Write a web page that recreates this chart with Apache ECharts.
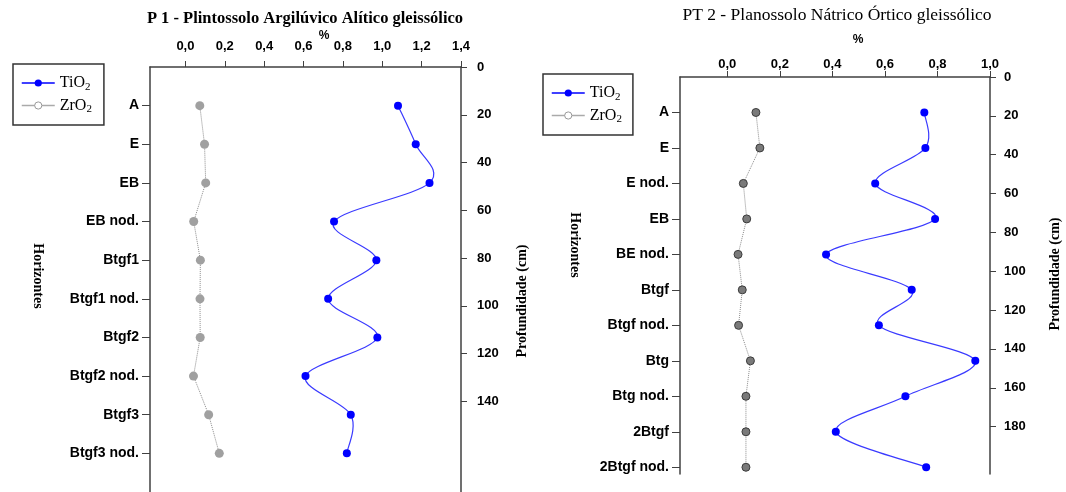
<!DOCTYPE html>
<html>
<head>
<meta charset="utf-8">
<script src="https://cdn.jsdelivr.net/npm/echarts@6/dist/echarts.min.js"></script>
<style>
html,body{margin:0;padding:0;background:#fff;}
#chart{width:1066px;height:492px;}
</style>
</head>
<body>
<div id="chart"></div>
<script>
// ---- Data ----
const catsP1 = ['A','E','EB','EB nod.','Btgf1','Btgf1 nod.','Btgf2','Btgf2 nod.','Btgf3','Btgf3 nod.'];
const tio2P1 = [1.08, 1.17, 1.24, 0.755, 0.97, 0.725, 0.975, 0.61, 0.84, 0.82];
const zro2P1 = [0.073, 0.097, 0.103, 0.042, 0.076, 0.074, 0.075, 0.041, 0.118, 0.172];

const catsP2 = ['A','E','E nod.','EB','BE nod.','Btgf','Btgf nod.','Btg','Btg nod.','2Btgf','2Btgf nod.'];
const tio2P2 = [0.75, 0.754, 0.563, 0.791, 0.376, 0.702, 0.577, 0.944, 0.678, 0.413, 0.757];
const zro2P2 = [0.109, 0.124, 0.061, 0.074, 0.041, 0.057, 0.043, 0.088, 0.071, 0.071, 0.071];

const pctTicksP1 = [0, 0.2, 0.4, 0.6, 0.8, 1.0, 1.2, 1.4];
const pctTicksP2 = [0, 0.2, 0.4, 0.6, 0.8, 1.0];
const depthTicksP1 = [0, 20, 40, 60, 80, 100, 120, 140];
const depthTicksP2 = [0, 20, 40, 60, 80, 100, 120, 140, 160, 180];

const titleP1 = 'P 1 - Plintossolo Argilúvico Alítico gleissólico';
const titleP2 = 'PT 2 - Planossolo Nátrico Órtico gleissólico';

// ---- Styles ----
const SANS = '"Liberation Sans", Arial, sans-serif';
const SERIF = '"Liberation Serif", "Times New Roman", serif';
const AXIS_COLOR = '#404040';
const BLUE = '#0000ff';
const CURVE = '#3a3aff';

const pct = v => v.toFixed(1).replace('.', ',');
const toPts = vals => vals.map((v, i) => [v, i + 1]);

function xAxisFor(gridIndex, max, ticks, margin) {
  return {
    type: 'value', gridIndex, position: 'top', min: -0.18, max,
    axisLine: {show: true, onZero: false, lineStyle: {color: AXIS_COLOR, width: 1.5}},
    axisTick: {show: true, inside: false, length: 6, customValues: ticks, lineStyle: {color: AXIS_COLOR}},
    axisLabel: {customValues: ticks, formatter: pct, margin, color: '#000', fontFamily: SANS, fontWeight: 'bold', fontSize: 13},
    splitLine: {show: false}
  };
}
function catAxisFor(gridIndex, cats, max) {
  const vals = cats.map((c, i) => i + 1);
  return {
    type: 'value', gridIndex, position: 'left', min: 0, max, inverse: true,
    axisLine: {show: true, onZero: false, lineStyle: {color: AXIS_COLOR, width: 1.5}},
    axisTick: {show: true, length: 8, customValues: vals, lineStyle: {color: AXIS_COLOR}},
    axisLabel: {customValues: vals, formatter: v => cats[Math.round(v) - 1] || '', margin: 11,
      color: '#000', fontFamily: SANS, fontWeight: 'bold', fontSize: 14},
    splitLine: {show: false}
  };
}
function depthAxisFor(gridIndex, max, ticks, margin) {
  return {
    type: 'value', gridIndex, position: 'right', min: 0, max, inverse: true,
    axisLine: {show: true, onZero: false, lineStyle: {color: AXIS_COLOR, width: 1.5}},
    axisTick: {show: true, length: 6, customValues: ticks, lineStyle: {color: AXIS_COLOR}},
    axisLabel: {customValues: ticks, margin, color: '#000', fontFamily: SANS, fontWeight: 'bold', fontSize: 13},
    splitLine: {show: false}
  };
}
// markers of TiO2 (line itself drawn by the smooth custom series)
function tioSeries(xi, yi, vals) {
  return {
    name: 'TiO2', type: 'line', xAxisIndex: xi, yAxisIndex: yi, data: toPts(vals),
    symbol: 'circle', symbolSize: 8,
    itemStyle: {color: BLUE},
    lineStyle: {color: BLUE, width: 0, opacity: 0},
    z: 4
  };
}
// Excel-like smoothed curve (Catmull-Rom Bezier) through the TiO2 points, placed by the axes
function tioCurve(xi, yi, vals) {
  return {
    type: 'custom', xAxisIndex: xi, yAxisIndex: yi, data: [[vals[0], 1]], z: 3, silent: true,
    renderItem: function (params, api) {
      if (params.dataIndex !== 0) return null;
      const P = vals.map((v, i) => api.coord([v, i + 1]));
      const children = [];
      for (let i = 0; i < P.length - 1; i++) {
        const p0 = P[i - 1] || P[i], p1 = P[i], p2 = P[i + 1], p3 = P[i + 2] || P[i + 1];
        children.push({
          type: 'bezierCurve',
          shape: {
            x1: p1[0], y1: p1[1], x2: p2[0], y2: p2[1],
            cpx1: p1[0] + (p2[0] - p0[0]) / 6, cpy1: p1[1] + (p2[1] - p0[1]) / 6,
            cpx2: p2[0] - (p3[0] - p1[0]) / 6, cpy2: p2[1] - (p3[1] - p1[1]) / 6
          },
          style: {stroke: CURVE, lineWidth: 1.2, fill: null}
        });
      }
      return {type: 'group', children};
    }
  };
}
function zrSeries(xi, yi, vals, fill, border, size) {
  return {
    name: 'ZrO2', type: 'line', xAxisIndex: xi, yAxisIndex: yi, data: toPts(vals),
    smooth: false, symbol: 'circle', symbolSize: size,
    itemStyle: {color: fill, borderColor: border, borderWidth: border ? 1 : 0},
    lineStyle: {color: '#8c8c8c', width: 1, type: 'dotted'},
    z: 2
  };
}
function legendFor(left, top, pr) {
  return {
    left, top, orient: 'vertical', itemWidth: 33, itemHeight: 9, itemGap: 5,
    padding: [11, pr, 10, 8], borderColor: '#333', borderWidth: 1.5,
    selectedMode: false,
    textStyle: {fontFamily: SERIF, fontSize: 16, color: '#000',
      rich: {b: {fontFamily: SERIF, fontSize: 16}, s: {fontFamily: SERIF, fontSize: 11, padding: [8, 0, 0, 0]}}},
    formatter: n => '{b|' + n.slice(0, 3) + '}{s|2}',
    data: [
      {name: 'TiO2', itemStyle: {color: BLUE}, lineStyle: {color: BLUE, width: 1.5, opacity: 1, type: 'solid'}},
      {name: 'ZrO2', itemStyle: {color: '#fff', borderColor: '#999', borderWidth: 1}, lineStyle: {color: '#aaa', width: 1.5, type: 'solid'}}
    ]
  };
}
function txt(x, y, text, font, rot) {
  return {type: 'text', x, y, rotation: rot || 0, silent: true,
    style: {text, x: 0, y: 0, font, fill: '#000', textAlign: 'center', textVerticalAlign: 'middle'}};
}

const chart = echarts.init(document.getElementById('chart'), null, {renderer: 'canvas'});
chart.setOption({
  backgroundColor: '#fff',
  animation: false,
  grid: [
    {left: 150, top: 67, width: 311, height: 432},
    {left: 680, top: 77, width: 310, height: 397}
  ],
  xAxis: [
    xAxisFor(0, 1.4, pctTicksP1, 14),
    xAxisFor(1, 1.0, pctTicksP2, 6)
  ],
  yAxis: [
    catAxisFor(0, catsP1, 11),
    depthAxisFor(0, 178, depthTicksP1, 16),
    catAxisFor(1, catsP2, 11.19),
    depthAxisFor(1, 204.4, depthTicksP2, 14)
  ],
  legend: [legendFor(13, 64, 12), legendFor(543, 74, 11)],
  series: [
    zrSeries(0, 0, zro2P1, '#a0a0a0', null, 9),
    tioCurve(0, 0, tio2P1),
    tioSeries(0, 0, tio2P1),
    zrSeries(1, 2, zro2P2, '#7a7a7a', '#3c3c3c', 8),
    tioCurve(1, 2, tio2P2),
    tioSeries(1, 2, tio2P2)
  ],
  graphic: [
    txt(305, 19, titleP1, 'bold 16.5px ' + SERIF),
    txt(324, 36, '%', 'bold 12px ' + SANS),
    txt(38, 276, 'Horizontes', 'bold 14px ' + SERIF, -Math.PI / 2),
    txt(522, 301, 'Profundidade (cm)', 'bold 14px ' + SERIF, Math.PI / 2),
    txt(837, 15, titleP2, '17.5px ' + SERIF),
    txt(858, 40, '%', 'bold 12px ' + SANS),
    txt(575, 245, 'Horizontes', 'bold 14px ' + SERIF, -Math.PI / 2),
    txt(1055, 274, 'Profundidade (cm)', 'bold 14px ' + SERIF, Math.PI / 2)
  ]
});
</script>
</body>
</html>
